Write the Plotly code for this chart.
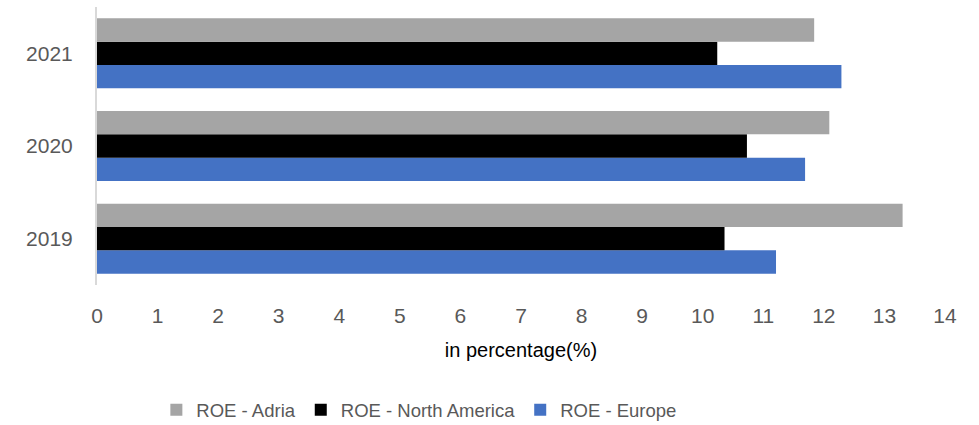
import plotly.graph_objects as go

years = ["2019", "2020", "2021"]
roe_adria = [13.30, 12.09, 11.84]
roe_north_america = [10.36, 10.73, 10.24]
roe_europe = [11.21, 11.69, 12.29]

series = [
    ("ROE - Europe", roe_europe, "#4472C4", 3),
    ("ROE - North America", roe_north_america, "#000000", 2),
    ("ROE - Adria", roe_adria, "#A5A5A5", 1),
]

fig = go.Figure()
for name, vals, color, rank in series:
    fig.add_trace(go.Bar(
        y=years, x=vals, name=name, orientation="h",
        marker=dict(color=color, line=dict(width=0)),
        legendrank=rank,
    ))

fig.update_layout(
    width=979, height=425,
    margin=dict(l=97, r=34, t=7, b=140, autoexpand=False),
    barmode="group", bargap=0.245, bargroupgap=0,
    plot_bgcolor="white", paper_bgcolor="white",
    font=dict(family="Liberation Sans, Arial, sans-serif", color="#595959"),
    showlegend=True,
    legend=dict(
        orientation="h", x=0.07, xanchor="left",
        yref="container", y=0.035, yanchor="middle",
        font=dict(size=18.5, color="#595959"),
        itemwidth=30,
    ),
    xaxis=dict(
        range=[0, 14], dtick=1, showgrid=False, zeroline=False,
        showline=False, ticks="", tickfont=dict(size=21, color="#595959"),
        ticklabelstandoff=16, automargin=False,
        title=dict(text="in percentage(%)", font=dict(size=20, color="#000000"), standoff=16),
    ),
    yaxis=dict(
        showgrid=False, zeroline=False, showline=True, linecolor="#D9D9D9", linewidth=2,
        ticks="", tickfont=dict(size=21, color="#595959"), ticklabelstandoff=18,
        automargin=False,
    ),
)

fig.write_html("out.html")
